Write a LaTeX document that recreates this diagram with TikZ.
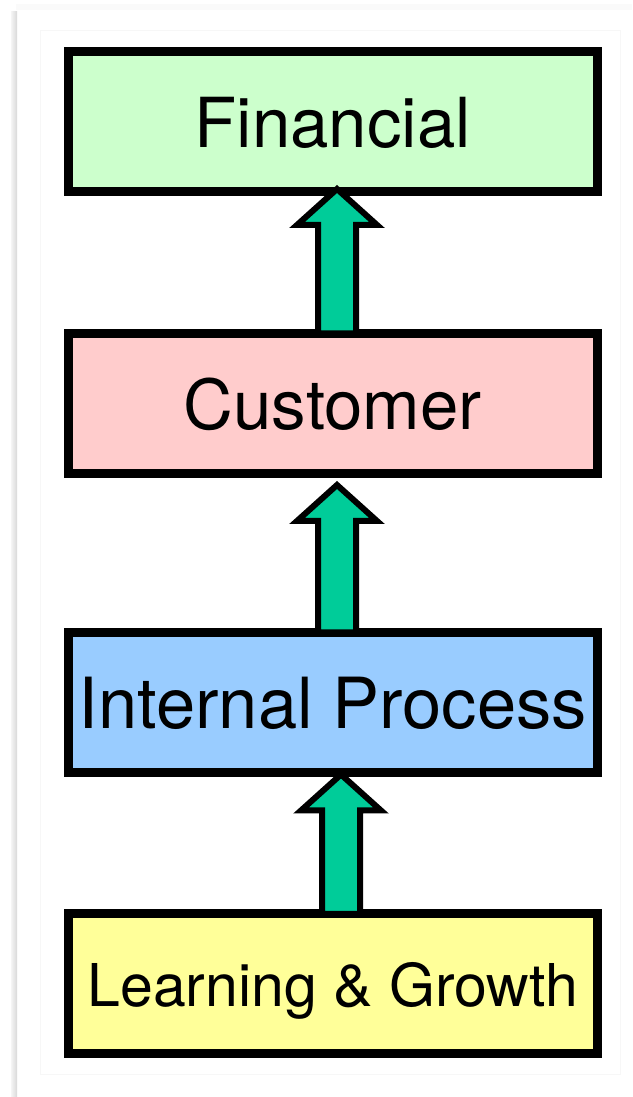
\documentclass[tikz,border=0pt]{standalone}
\usepackage{fontspec}
\setmainfont{TeX Gyre Heros}
\usetikzlibrary{positioning, calc}
\definecolor{bscgreen}{RGB}{204, 255, 204}
\definecolor{bscred}{RGB}{255, 204, 204}
\definecolor{bscblue}{RGB}{153, 204, 255}
\definecolor{bscyellow}{RGB}{255, 255, 153}
\definecolor{bscarrow}{RGB}{0, 204, 153}

% fat upward arrow from one box to the next: from, to, x offset, tip gap
\newcommand{\liftarrow}[4]{%
  \draw[lift] let \p1=(#1.north), \p2=(#2.south) in
    (\x1+#3pt-19pt,\y1) -- (\x1+#3pt-19pt,\y2-#4pt-36pt)
    -- (\x1+#3pt-40pt,\y2-#4pt-36pt) -- (\x1+#3pt,\y2-#4pt)
    -- (\x1+#3pt+40pt,\y2-#4pt-36pt) -- (\x1+#3pt+19pt,\y2-#4pt-36pt)
    -- (\x1+#3pt+19pt,\y1) -- cycle;}

\begin{document}
\begin{tikzpicture}[
    x=1pt, y=1pt,
    box/.style={rectangle, draw=black, line width=9pt, outer sep=0pt,
                inner sep=0pt, minimum width=528.5pt, minimum height=140pt,
                text depth=0pt, font=\fontsize{69}{80}\selectfont},
    lift/.style={draw=black, fill=bscarrow, line width=6pt, line join=miter}
]
\useasboundingbox (0,0) rectangle (632,1097);

% page frame
\fill[gray!4] (16,1087) rectangle (632,1093);
\shade[left color=gray!8, right color=gray!30] (11,0) rectangle (17,1085);
\draw[gray!6, line width=1pt] (40,22) rectangle (620,1066);

% Boxes
\node[box, fill=bscgreen] (fin) at (332.75,975) {Financial};
\node[box, fill=bscred,    below=141.5pt of fin]  (cust) {Customer};
\node[box, fill=bscblue,   below=159pt of cust, font=\fontsize{70.5}{80}\selectfont]
     (proc) {Internal Process};
\node[box, fill=bscyellow, below=141.5pt of proc, font=\fontsize{59}{68}\selectfont]
     (learn) {Learning \& Growth};

% Arrows
\liftarrow{cust}{fin}{4.25}{-3}
\liftarrow{proc}{cust}{4.25}{11.5}
\liftarrow{learn}{proc}{8.25}{2}

\end{tikzpicture}
\end{document}
